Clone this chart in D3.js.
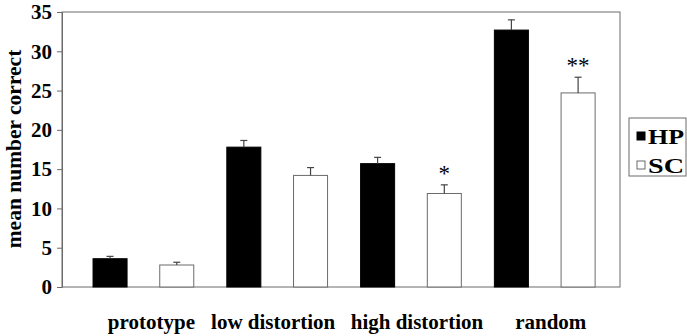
<!DOCTYPE html>
<html>
<head>
<meta charset="utf-8">
<script src="https://cdn.jsdelivr.net/npm/d3@7"></script>
<style>
  body { margin: 0; background: #fff; }
  text { font-family: "Liberation Serif", "Times New Roman", serif; }
</style>
</head>
<body>
<div id="chart"></div>
<script>
    var categories = ["prototype", "low distortion", "high distortion", "random"]
    var groups = ["HP", "SC"]
    var hpValues = [3.6, 17.8, 15.7, 32.7]
    var hpErrors = [0.3, 0.85, 0.8, 1.3]
    var scValues = [2.8, 14.2, 11.9, 24.7]
    var scErrors = [0.35, 1.0, 1.1, 2.0]
    var yTicks = [0, 5, 10, 15, 20, 25, 30, 35]
    var marks = [{cat: "high distortion", text: "*"}, {cat: "random", text: "**"}]

    var w = 687
    var h = 336
    var pL = 62, pR = 620, pT = 12, pB = 287
    var grey = "#6b6b6b"
    // labels in the original sit a little off the group centres
    var labelNudge = [8, -4, 6, 6]

    var svg = d3.select("#chart").append("svg")
        .attr("width", w)
        .attr("height", h)

    var y = d3.scaleLinear().domain([0, 35]).range([pB, pT])

    var x0 = d3.scaleBand()
        .domain(categories)
        .range([pL, pR])
        .paddingInner(0.247)
        .paddingOuter(0.209)
        .align(0.555)

    var x1 = d3.scaleBand()
        .domain(groups)
        .range([0, x0.bandwidth()])
        .paddingInner(0.49)

    // table built from arrays
    var rows = []
    categories.forEach(function(c, i){
        rows.push({cat: c, g: "HP", v: hpValues[i], e: hpErrors[i]})
        rows.push({cat: c, g: "SC", v: scValues[i], e: scErrors[i]})
    })

    // plot frame
    svg.append("rect")
        .attr("x", pL).attr("y", pT)
        .attr("width", pR - pL).attr("height", pB - pT)
        .attr("fill", "none").attr("stroke", grey).attr("stroke-width", 1)

    var yAxis = d3.axisLeft(y).tickValues(yTicks).tickSize(5).tickPadding(5)
    var ya = svg.append("g").attr("transform", "translate(" + pL + ",0)").call(yAxis)
    ya.select(".domain").attr("stroke", grey)
    ya.selectAll(".tick line").attr("stroke", grey)
    ya.selectAll(".tick text")
        .attr("font-size", 21).attr("font-weight", "bold")
        .attr("font-family", "Liberation Serif").attr("fill", "#000")

    svg.selectAll(".bar")
        .data(rows)
        .join("rect")
        .attr("class", "bar")
        .attr("x", function(d){ return x0(d.cat) + x1(d.g) })
        .attr("y", function(d){ return y(d.v) })
        .attr("width", x1.bandwidth())
        .attr("height", function(d){ return y(0) - y(d.v) })
        .attr("fill", function(d){ return d.g == "HP" ? "#000" : "#fff" })
        .attr("stroke", function(d){ return d.g == "HP" ? "#000" : grey })
        .attr("stroke-width", 1)

    var err = svg.selectAll(".err").data(rows).join("g").attr("class", "err")
    err.append("line")
        .attr("x1", function(d){ return x0(d.cat) + x1(d.g) + x1.bandwidth() / 2 })
        .attr("x2", function(d){ return x0(d.cat) + x1(d.g) + x1.bandwidth() / 2 })
        .attr("y1", function(d){ return y(d.v) })
        .attr("y2", function(d){ return y(d.v + d.e) })
        .attr("stroke", "#444").attr("stroke-width", 1.2)
    err.append("line")
        .attr("x1", function(d){ return x0(d.cat) + x1(d.g) + x1.bandwidth() / 2 - 3.5 })
        .attr("x2", function(d){ return x0(d.cat) + x1(d.g) + x1.bandwidth() / 2 + 3.5 })
        .attr("y1", function(d){ return y(d.v + d.e) })
        .attr("y2", function(d){ return y(d.v + d.e) })
        .attr("stroke", "#444").attr("stroke-width", 1.2)

    // significance stars over SC bars
    svg.selectAll(".star")
        .data(marks)
        .join("text")
        .attr("class", "star")
        .text(function(d){ return d.text })
        .attr("x", function(d){ return x0(d.cat) + x1("SC") + x1.bandwidth() / 2 })
        .attr("y", function(d){
            var i = categories.indexOf(d.cat)
            return y(scValues[i] + scErrors[i]) - 4
        })
        .attr("text-anchor", "middle")
        .attr("font-size", 23)

    svg.selectAll(".catLabel")
        .data(categories)
        .join("text")
        .attr("class", "catLabel")
        .text(function(d){ return d })
        .attr("x", function(d, i){ return x0(d) + x0.bandwidth() / 2 + labelNudge[i] })
        .attr("y", 329)
        .attr("text-anchor", "middle")
        .attr("font-size", 21)
        .attr("font-weight", "bold")

    svg.append("text")
        .text("mean number correct")
        .attr("transform", "translate(21,149) rotate(-90)")
        .attr("text-anchor", "middle")
        .attr("font-size", 21.5)
        .attr("font-weight", "bold")

    // legend
    var lg = svg.append("g").attr("transform", "translate(629,118)")
    lg.append("rect").attr("width", 57).attr("height", 58)
        .attr("fill", "#fff").attr("stroke", grey)
    lg.selectAll(".key")
        .data(groups)
        .join("rect")
        .attr("class", "key")
        .attr("x", 8)
        .attr("y", function(d, i){ return 14 + i * 29 })
        .attr("width", 8).attr("height", 8)
        .attr("fill", function(d){ return d == "HP" ? "#000" : "#fff" })
        .attr("stroke", function(d){ return d == "HP" ? "#000" : grey })
    lg.selectAll(".keyText")
        .data(groups)
        .join("text")
        .attr("class", "keyText")
        .text(function(d){ return d })
        .attr("x", 19)
        .attr("y", function(d, i){ return 26 + i * 29 })
        .attr("font-size", 22)
        .attr("font-weight", "bold")
        .attr("textLength", 36)
        .attr("lengthAdjust", "spacingAndGlyphs")
</script>
</body>
</html>
